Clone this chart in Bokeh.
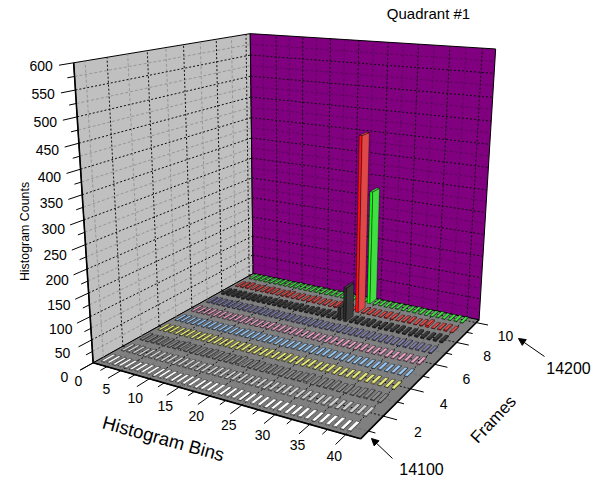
import numpy as np
from bokeh.plotting import figure
from bokeh.models import Range1d, Arrow, NormalHead
from bokeh.core.properties import value
from bokeh.embed import file_html
from bokeh.resources import INLINE

# ---------- chart data ----------
title_text = "Quadrant #1"
bins = list(range(1, 41))
frames = list(range(1, 11))
frame_front = ["#ffffff", "#c8c8c8", "#8c8c8c", "#f0f070", "#90c8ff", "#f0a0c8", "#7878b0", "#2a2a2a", "#ff1010", "#10ff10"]
frame_light = ["#ffffff", "#d0d0d0", "#8a8a8a", "#e8e878", "#98c4f0", "#e8a0c4", "#7c7ca8", "#3c3c3c", "#e04848", "#40e040"]
f1 = [2, 2, 1, 2, 2, 1, 2, 2, 2, 1, 2, 2, 1, 2, 2, 2, 1, 2, 2, 2, 1, 2, 2, 1, 2, 2, 2, 1, 2, 2, 1, 2, 2, 2, 1, 2, 2, 2, 1, 2]
f2 = [1, 2, 2, 1, 2, 2, 2, 1, 2, 1, 2, 2, 2, 1, 2, 1, 2, 2, 1, 2, 2, 1, 2, 2, 1, 2, 1, 2, 2, 1, 2, 2, 1, 2, 2, 1, 2, 1, 2, 2]
f3 = [2, 1, 2, 3, 2, 1, 2, 4, 2, 2, 1, 2, 3, 2, 1, 2, 2, 4, 1, 2, 2, 1, 3, 2, 2, 1, 2, 2, 4, 1, 2, 2, 3, 1, 2, 1, 2, 3, 2, 1]
f4 = [1, 1, 2, 1, 1, 2, 1, 1, 2, 1, 1, 1, 2, 1, 1, 2, 1, 1, 1, 2, 1, 1, 2, 1, 1, 1, 2, 1, 1, 2, 1, 1, 1, 2, 1, 1, 2, 1, 1, 1]
f5 = [1, 2, 1, 1, 2, 1, 2, 1, 1, 2, 1, 1, 2, 1, 2, 1, 1, 2, 1, 1, 1, 2, 1, 2, 1, 1, 2, 1, 1, 2, 1, 1, 2, 1, 1, 2, 1, 2, 1, 1]
f6 = [2, 1, 1, 2, 1, 2, 1, 1, 2, 1, 2, 1, 1, 1, 2, 1, 2, 1, 1, 2, 1, 1, 2, 1, 1, 2, 1, 2, 1, 1, 2, 1, 1, 2, 1, 1, 1, 2, 1, 2]
f7 = [2, 3, 2, 2, 3, 2, 2, 3, 2, 2, 3, 2, 3, 2, 2, 3, 2, 2, 3, 2, 3, 2, 2, 3, 2, 2, 2, 3, 2, 3, 2, 2, 3, 2, 2, 3, 2, 3, 2, 2]
f8 = [3, 4, 3, 4, 3, 3, 4, 3, 4, 3, 3, 4, 3, 3, 4, 3, 3, 4, 3, 4, 3, 3, 30, 80, 3, 4, 3, 4, 3, 3, 4, 3, 4, 3, 3, 4, 3, 3, 4, 3]
f9 = [1, 2, 3, 1, 2, 1, 3, 2, 1, 2, 3, 1, 2, 1, 2, 3, 1, 2, 1, 3, 2, 1, 2, 410, 2, 2, 2, 1, 3, 2, 1, 2, 3, 1, 2, 5, 1, 2, 3, 1]
f10 = [1, 1, 2, 1, 1, 1, 2, 1, 1, 2, 1, 1, 1, 2, 1, 1, 2, 1, 1, 1, 2, 1, 1, 270, 1, 1, 1, 1, 2, 1, 1, 2, 1, 1, 1, 2, 1, 1, 2, 1]
counts = [f1, f2, f3, f4, f5, f6, f7, f8, f9, f10]
z_ticks = [0, 50, 100, 150, 200, 250, 300, 350, 400, 450, 500, 550, 600]
bin_ticks = [0, 5, 10, 15, 20, 25, 30, 35, 40]
frame_ticks = [2, 4, 6, 8, 10]

# ---------- view: world extent and the camera that is fitted to it ----------
X0, X1 = 0.0, 42.0
Y0, Y1 = 0.5, 10.3
Z0, Z1 = 0.0, 600.0
cam_world = [(X0, Y0, Z0), (X1, Y0, Z0), (X1, Y1, Z0), (X0, Y1, Z0), (X0, Y0, Z1), (X0, Y1, Z1), (X1, Y1, Z1)]
cam_screen = [(92, 362), (361, 438), (478, 320), (253, 273), (73, 63), (250, 33), (495, 48)]

A = []
b = []
for (wx, wy, wz), (sx, sy) in zip(cam_world, cam_screen):
    w = [wx / 42, wy / 10, wz / 600, 1]
    A.append(w + [0, 0, 0, 0] + [-sx * c for c in w[:3]])
    b.append(sx)
    A.append([0, 0, 0, 0] + w + [-sy * c for c in w[:3]])
    b.append(sy)
sol = np.linalg.lstsq(np.array(A, float), np.array(b, float), rcond=None)[0]
P = np.append(sol, 1.0).reshape(3, 4)


def pr(x, y, z=0.0):
    v = P @ np.array([x / 42, y / 10, z / 600, 1.0])
    return float(v[0] / v[2]), float(v[1] / v[2])


def poly(pts):
    s = [pr(*q) for q in pts]
    return [a for a, _ in s], [c for _, c in s]


p = figure(width=593, height=480, x_range=Range1d(0, 593), y_range=Range1d(480, 0),
           toolbar_location=None, output_backend="svg", min_border=0, outline_line_color=None,
           background_fill_color="white", border_fill_color="white")
p.axis.visible = False
p.grid.visible = False

FONT = value("Liberation Sans")

# walls and floor
wall_xs, wall_ys = [], []
for q in ([(X0, Y0, Z0), (X0, Y1, Z0), (X0, Y1, Z1), (X0, Y0, Z1)],
          [(X0, Y1, Z0), (X1, Y1, Z0), (X1, Y1, Z1), (X0, Y1, Z1)],
          [(X0, Y0, Z0), (X1, Y0, Z0), (X1, Y1, Z0), (X0, Y1, Z0)]):
    a, c = poly(q)
    wall_xs.append(a)
    wall_ys.append(c)
p.patches(wall_xs, wall_ys, fill_color=["#c0c0c0", "#800080", "#808080"], line_color="black", line_width=1)


def seg_lines(segs, color, dash, width=1.0):
    xs, ys = [], []
    for s in segs:
        a, c = poly(s)
        xs.append(a)
        ys.append(c)
    p.multi_line(xs, ys, line_color=color, line_dash=dash, line_width=width)


# grid on walls and floor
minor_bins = [2.5 + 5 * i for i in range(8)]
major_bins = [5, 10, 15, 20, 25, 30, 35, 40]
minor_frames = [1, 3, 5, 7, 9]
major_frames = [2, 4, 6, 8, 10]
minor_z = [25 + 50 * i for i in range(12)]
major_z = z_ticks[1:-1]

# faint minor grid, one colour per plane
seg_lines([[(X0, f_, Z0), (X0, f_, Z1)] for f_ in minor_frames] + [[(X0, Y0, z_), (X0, Y1, z_)] for z_ in minor_z], "#8c8c8c", "3 2", 0.8)
seg_lines([[(b_, Y1, Z0), (b_, Y1, Z1)] for b_ in minor_bins] + [[(X0, Y1, z_), (X1, Y1, z_)] for z_ in minor_z], "#500a50", "3 2", 0.7)
seg_lines([[(b_, Y0, Z0), (b_, Y1, Z0)] for b_ in minor_bins] + [[(X0, f_, Z0), (X1, f_, Z0)] for f_ in minor_frames], "#666666", "3 2", 0.7)
# dark major grid
major = []
for b_ in major_bins:
    major.append([(b_, Y1, Z0), (b_, Y1, Z1)])
    major.append([(b_, Y0, Z0), (b_, Y1, Z0)])
for f_ in major_frames:
    major.append([(X0, f_, Z0), (X0, f_, Z1)])
    major.append([(X0, f_, Z0), (X1, f_, Z0)])
for z_ in major_z:
    major.append([(X0, Y0, z_), (X0, Y1, z_)])
    major.append([(X0, Y1, z_), (X1, Y1, z_)])
seg_lines(major, "#101010", "2 2", 1.0)

# bars, painted from the far corner to the near one
BW, BD = 0.24, 0.29
bx, by, bc = [], [], []
for fi in reversed(range(len(frames))):
    fr = frames[fi]
    for bi, bn in enumerate(bins):
        h = counts[fi][bi]
        xa, xb = bn - BW, bn + BW
        ya, yb = fr - BD, fr + BD
        faces = [
            ([(xa, ya, 0), (xb, ya, 0), (xb, ya, h), (xa, ya, h)], frame_front[fi]),
            ([(xb, ya, 0), (xb, yb, 0), (xb, yb, h), (xb, ya, h)], frame_light[fi]),
            ([(xa, ya, h), (xb, ya, h), (xb, yb, h), (xa, yb, h)], frame_light[fi]),
        ]
        for q, col in faces:
            a, c = poly(q)
            bx.append(a)
            by.append(c)
            bc.append(col)
p.patches(bx, by, fill_color=bc, line_color="black", line_width=0.4)

# axis edges
edges = [[(X0, Y0, Z0), (X0, Y0, Z1)], [(X0, Y0, Z0), (X1, Y0, Z0)], [(X1, Y0, Z0), (X1, Y1, Z0)]]
seg_lines(edges, "black", "solid", 1.6)

# ticks
TICK_Y = 0.62
TICK_X = 1.9
tk = []
for z_ in z_ticks:
    tk.append([(X0, Y0, z_), (X0, Y0 - TICK_Y, z_)])
for z_ in minor_z:
    tk.append([(X0, Y0, z_), (X0, Y0 - TICK_Y / 2, z_)])
for b_ in bin_ticks:
    tk.append([(b_, Y0, 0), (b_, Y0 - TICK_Y, 0)])
for b_ in minor_bins:
    tk.append([(b_, Y0, 0), (b_, Y0 - TICK_Y / 2, 0)])
for f_ in frame_ticks:
    tk.append([(X1, f_, 0), (X1 + TICK_X, f_, 0)])
for f_ in minor_frames:
    tk.append([(X1, f_, 0), (X1 + TICK_X / 2, f_, 0)])
seg_lines(tk, "black", "solid", 1.0)


def labels(xs, ys, txt, size, angle=0.0, color="black"):
    p.text(xs, ys, text=txt, text_font=FONT, text_font_size=size, text_align="center",
           text_baseline="middle", angle=angle, text_color=color)


# tick labels
zl = [pr(X0, Y0 - 1.35, z_) for z_ in z_ticks]
labels([q[0] for q in zl], [q[1] - 2 for q in zl], [str(z_) for z_ in z_ticks], "14px")
bl = [pr(b_, Y0 - 0.7, 0) for b_ in bin_ticks]
labels([q[0] for q in bl], [q[1] + 10 for q in bl], [str(b_) for b_ in bin_ticks], "14px")
fl = [pr(X1 + 4.7, f_, 0) for f_ in frame_ticks]
labels([q[0] for q in fl], [q[1] + 7 for q in fl], [str(f_) for f_ in frame_ticks], "14px")

# titles
labels([428], [13], [title_text], "15px")
labels([163], [438], ["Histogram Bins"], "18.5px", angle=-0.27)
labels([493], [419], ["Frames"], "17px", angle=0.82)
labels([24], [231], ["Histogram Counts"], "12.4px", angle=np.pi / 2)
labels([568], [367], ["14200"], "16px")
labels([421], [468], ["14100"], "16px")

for xa, ya, xb, yb in [(544, 356, 518, 338), (392, 458, 371, 438)]:
    p.add_layout(Arrow(end=NormalHead(size=7, fill_color="black", line_color="black"),
                       x_start=xa, y_start=ya, x_end=xb, y_end=yb, line_color="black", line_width=1))

open("out.html", "w").write(file_html(p, INLINE))
